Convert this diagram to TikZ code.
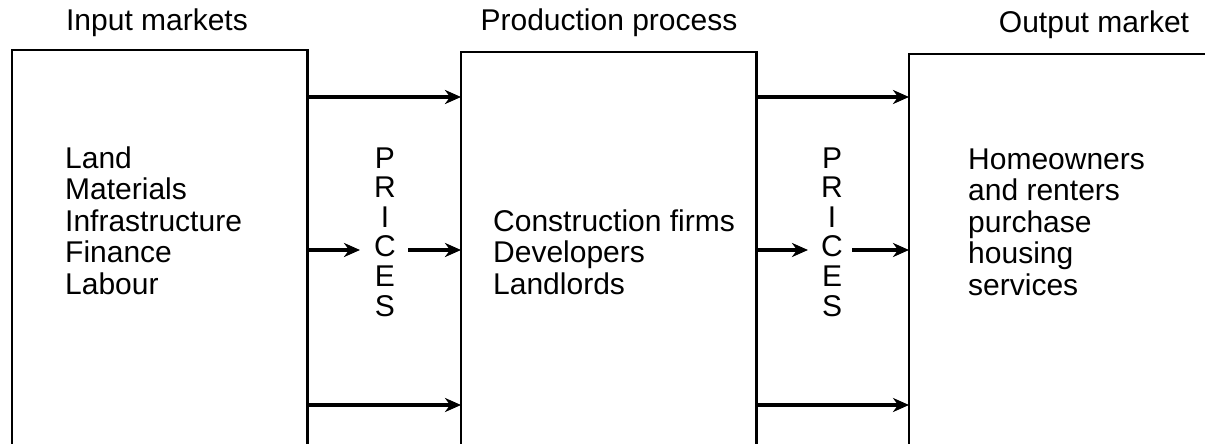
\documentclass[tikz,border=0pt]{standalone}
\usepackage{fontspec}
\setmainfont{Liberation Sans}
\usetikzlibrary{arrows.meta}
\begin{document}
\begin{tikzpicture}[x=1pt,y=-1pt,
  txt/.style={inner sep=0pt,font=\fontsize{30}{36}\selectfont},
  boxarea/.style={draw=none,inner sep=0pt,anchor=north west},
  frame/.style={line width=2.6pt,line join=miter},
  arr/.style={line width=3.4pt,-{Stealth[length=16pt,width=14pt,inset=5pt]}}]
\useasboundingbox (0,0) rectangle (1205,444);
% box areas
\node[boxarea,minimum width=295pt,minimum height=394pt] (b1) at (12,50) {};
\node[boxarea,minimum width=295pt,minimum height=392pt] (b2) at (461,52) {};
\node[boxarea,minimum width=296pt,minimum height=390pt] (b3) at (909,54) {};
\draw[frame] (b1.south west) -- (b1.north west) -- (b1.north east) -- (b1.south east);
\draw[frame] (b2.south west) -- (b2.north west) -- (b2.north east) -- (b2.south east);
\draw[frame] (b3.south west) -- (b3.north west) -- (b3.north east);
% titles
\node[txt,anchor=base] (t1) at (157,31) {Input markets};
\node[txt,anchor=base] (t2) at (609,31) {Production process};
\node[txt,anchor=base] (t3) at (1094,33) {Output market};
% left texts
\node[txt,anchor=base west] (l1) at (65,168) {Land};
\node[txt,anchor=base west] (l2) at (65,199.5) {Materials};
\node[txt,anchor=base west] (l3) at (65,231) {Infrastructure};
\node[txt,anchor=base west] (l4) at (65,262.5) {Finance};
\node[txt,anchor=base west] (l5) at (65,294) {Labour};
% middle texts
\node[txt,anchor=base west] (m1) at (493,231) {Construction firms};
\node[txt,anchor=base west] (m2) at (493,262.5) {Developers};
\node[txt,anchor=base west] (m3) at (493,294) {Landlords};
% right texts
\node[txt,anchor=base west] (r1) at (968,169) {Homeowners};
\node[txt,anchor=base west] (r2) at (968,200.5) {and renters};
\node[txt,anchor=base west] (r3) at (968,232) {purchase};
\node[txt,anchor=base west] (r4) at (968,263.5) {housing};
\node[txt,anchor=base west] (r5) at (968,295) {services};
% PRICES columns
\foreach \l [count=\i from 0] in {P,R,I,C,E,S}{
  \node[txt,anchor=base] (pa\i) at (385,168+29.6*\i) {\l};
  \node[txt,anchor=base] (pb\i) at (832,168+29.6*\i) {\l};
}
% free ends of the middle arrows
\coordinate (a1e) at (360,250);
\coordinate (a1s) at (408,250);
\coordinate (a2e) at (808,250);
\coordinate (a2s) at (852,250);
% top and bottom arrows
\draw[arr] (b1.east |- 0,97) -- (b2.west |- 0,97);
\draw[arr] (b1.east |- 0,405) -- (b2.west |- 0,405);
\draw[arr] (b2.east |- 0,97) -- (b3.west |- 0,97);
\draw[arr] (b2.east |- 0,405) -- (b3.west |- 0,405);
% middle arrows
\draw[arr] (b1.east |- a1e) -- (a1e);
\draw[arr] (a1s) -- (b2.west |- a1s);
\draw[arr] (b2.east |- a2e) -- (a2e);
\draw[arr] (a2s) -- (b3.west |- a2s);
\end{tikzpicture}
\end{document}
